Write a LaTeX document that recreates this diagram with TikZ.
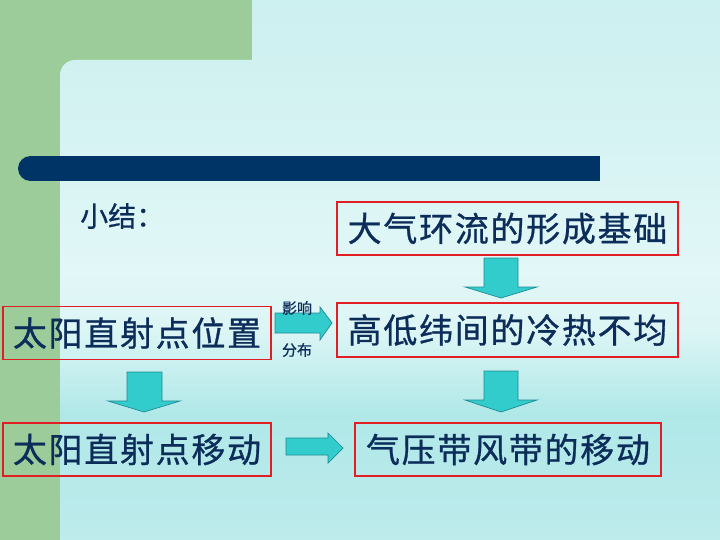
\documentclass[tikz,border=0pt]{standalone}
\usepackage{fontspec}
\newfontfamily\cjk[FakeBold=0.6]{Noto Sans CJK SC}
\newfontfamily\cjkls[LetterSpace=5,FakeBold=0.8]{Noto Sans CJK SC}
\definecolor{bggreen}{RGB}{155,204,153}
\definecolor{navybar}{RGB}{0,51,102}
\definecolor{boxred}{RGB}{226,30,36}
\definecolor{txt}{RGB}{12,45,90}
\definecolor{arrfill}{RGB}{51,204,204}
\definecolor{arrline}{RGB}{30,140,150}
\definecolor{ctop}{RGB}{205,240,240}
\definecolor{cmidA}{RGB}{214,243,243}
\definecolor{cmidB}{RGB}{226,247,247}
\definecolor{cmidC}{RGB}{220,245,245}
\definecolor{cmidD}{RGB}{176,232,232}
\definecolor{cbot}{RGB}{190,235,236}
\pgfdeclareverticalshading{bgshade}{100bp}{color(0bp)=(cbot); color(25bp)=(cbot); color(36.6bp)=(cmidD); color(44.4bp)=(cmidC); color(50bp)=(cmidB); color(62bp)=(cmidA); color(75bp)=(ctop); color(100bp)=(ctop)}
\begin{document}
\begin{tikzpicture}[x=1pt,y=-1pt,
  redbox/.style={draw=boxred, line width=1.8pt, inner sep=0pt, text=txt,
    font=\cjkls\fontsize{34}{38}\selectfont},
  blockarrow/.style={fill=arrfill, draw=arrline, line width=0.7pt, line join=miter},
  smalllabel/.style={inner sep=0pt, text=txt, font=\cjk\fontsize{15}{17}\selectfont}]
\useasboundingbox (0,0) rectangle (720,540);
% background
\shade[shading=bgshade] (0,0) rectangle (720,540);
\fill[bggreen] (0,0) rectangle (252,60);
\fill[bggreen] (0,0) rectangle (60,540);
\fill[bggreen] (59,59) rectangle (80,80);
\begin{scope}
  \clip[rounded corners=15pt] (60,60) rectangle (780,600);
  \shade[shading=bgshade] (0,0) rectangle (720,540);
\end{scope}
% dark bar
\fill[navybar] (30,156) rectangle (600,181);
\fill[navybar] (30.5,168.5) circle (12.5);
% title
\node[anchor=west, inner sep=0pt, text=txt, font=\cjk\fontsize{28}{31}\selectfont] (title) at (80,216) {小结：};
% boxes
\node[redbox, minimum width=341pt, minimum height=53pt] (b1) at (507.5,228.5) {大气环流的形成基础};
\node[redbox, minimum width=341pt, minimum height=54pt] (b2) at (507.5,330) {高低纬间的冷热不均};
\node[redbox, minimum width=268pt, minimum height=53pt] (b3) at (137,333) {太阳直射点位置};
\node[redbox, minimum width=268pt, minimum height=53pt] (b4) at (137,449.5) {太阳直射点移动};
\node[redbox, minimum width=306pt, minimum height=53pt] (b5) at (508,449.5) {气压带风带的移动};
% block arrows
\draw[blockarrow] (484,258) -- (518,258) -- (518,287) -- (537,287) -- (501,298) -- (465,287) -- (484,287) -- cycle;
\draw[blockarrow] (484,371) -- (518,371) -- (518,400) -- (537,400) -- (501,412) -- (465,400) -- (484,400) -- cycle;
\draw[blockarrow] (127,372) -- (162,372) -- (162,401) -- (180,401) -- (144,412) -- (108,401) -- (127,401) -- cycle;
\draw[blockarrow] (275,313) -- (320,313) -- (320,307) -- (332,323) -- (320,340) -- (320,333) -- (275,333) -- cycle;
\draw[blockarrow] (286,438) -- (328,438) -- (328,433) -- (343,448) -- (328,463) -- (328,455) -- (286,455) -- cycle;
% labels
\node[smalllabel] (l1) at (297,308) {影响};
\node[smalllabel] (l2) at (297,350) {分布};
\end{tikzpicture}
\end{document}
